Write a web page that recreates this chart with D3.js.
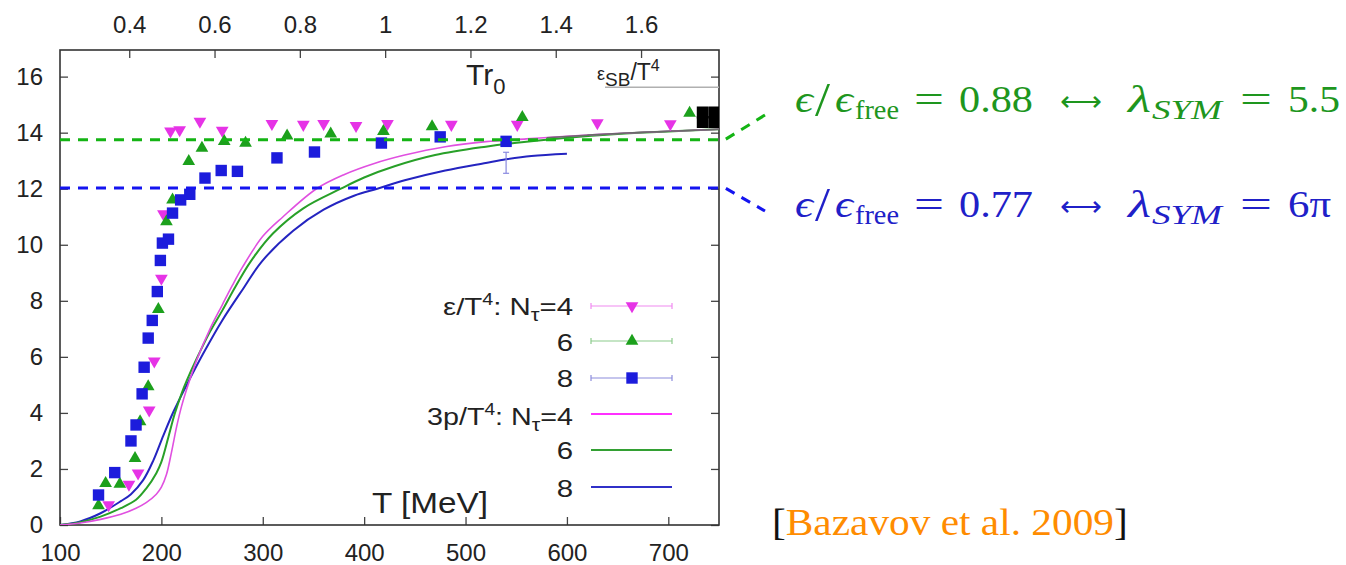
<!DOCTYPE html>
<html><head><meta charset="utf-8">
<script src="https://cdn.jsdelivr.net/npm/d3@7"></script>
<style>body{margin:0;background:#fff}</style>
</head><body>
<svg id="c" width="1346" height="565" xmlns="http://www.w3.org/2000/svg"></svg>
<script>
// ---- data ----
const yTicks = [0,2,4,6,8,10,12,14,16];
const xTicks = [100,200,300,400,500,600,700];
const topTicks = [0.4,0.6,0.8,1,1.2,1.4,1.6];
const r0MeV = 420.7; // T r0 = T / r0MeV

// epsilon/T^4 data points
const eN4_T = [148,168,177,188,193,200,202,209,218,238,260,309,340,360,392,423,486,551,630,702];
const eN4_v = [0.72,1.45,1.85,4.1,5.85,8.8,11.1,14.05,14.1,14.4,14.08,14.32,14.29,14.32,14.25,14.32,14.29,14.29,14.35,14.31];
const eN6_T = [138,145,159,174,179,187,197,205,211,227,240,262,283,324,367,419,467,556,721];
const eN6_v = [0.69,1.49,1.46,2.38,3.69,4.94,7.7,10.83,11.6,12.98,13.45,13.69,13.63,13.89,13.96,14.05,14.22,14.55,14.7];
const eN8_T = [138,154,170,175,181,183,187,191,196,199,201,207,211,219,228,243,259,275,314,351,417,475,540];
const eN8_v = [1.07,1.87,3.0,3.57,4.68,5.63,6.67,7.3,8.33,9.44,10.06,10.2,11.13,11.6,11.8,12.38,12.65,12.62,13.1,13.31,13.63,13.85,13.69];
const contT = [734,746,734,746];
const contV = [14.72,14.72,14.38,14.38];
const errBarT = [540];
const errBarLo = [12.55];
const errBarHi = [13.3];

// 3p/T^4 curves
const pN4_T = [100,120,140,160,175,185,195,200,205,210,215,220,225,235,248,260,270,280,300,320,353,380,410,440,480,520,560,600,650,700,750];
const pN4_v = [0,0.07,0.2,0.38,0.6,0.8,1.1,1.35,1.8,2.6,3.5,4.25,4.85,5.9,7.0,7.85,8.55,9.2,10.3,11.0,12.0,12.5,12.9,13.2,13.5,13.68,13.78,13.87,13.97,14.05,14.12];
const pN6_T = [100,120,140,160,175,185,195,200,207,213,220,225,235,248,260,273,288,310,340,377,400,430,470,520,560,600,650,700,750];
const pN6_v = [0,0.1,0.3,0.6,0.9,1.3,1.85,2.25,3.15,3.95,4.7,5.15,5.95,6.9,7.65,8.5,9.4,10.4,11.3,12.0,12.4,12.8,13.2,13.5,13.68,13.82,13.95,14.04,14.12];
const pN8_T = [100,120,140,160,170,182,192,202,212,225,241,260,281,299,330,360,390,413,440,480,520,540,565,600];
const pN8_v = [0,0.13,0.42,0.85,1.1,1.6,2.3,3.2,4.05,5.0,6.1,7.3,8.45,9.4,10.5,11.25,11.75,12.0,12.3,12.65,12.92,13.05,13.17,13.25];
const greyT = [580,620,660,700,750];
const greyV = [13.82,13.91,13.99,14.05,14.12];

const sbLevel = 15.62;
const greenLevel = 13.75;
const blueLevel = 12.03;

// ---- drawing ----
const svg = d3.select('#c');
svg.append('rect').attr('width',1346).attr('height',565).attr('fill','#fff');
const L=60,R=719,T0=50,B=525;
const x = d3.scaleLinear().domain([100,750]).range([L,R]);
const y = d3.scaleLinear().domain([0,16.95]).range([B,T0]);
const xt = d3.scaleLinear().domain([100/r0MeV,750/r0MeV]).range([L,R]);
const SANS = "'Liberation Sans', Arial, Helvetica, sans-serif";
const SERIF = "'Liberation Serif', 'Times New Roman', 'DejaVu Serif', serif";

const C = {mag:'#e633e6', grn:'#1ca01c', blu:'#1c1cdc', magL:'#e050e0', grnL:'#28a028', bluL:'#2424c0'};

svg.append('clipPath').attr('id','clip').append('rect').attr('x',L).attr('y',T0).attr('width',R-L).attr('height',B-T0);

function styleAxis(g){
  g.select('.domain').remove();
  g.selectAll('.tick line').attr('stroke','#444').attr('stroke-width',1.3);
  g.selectAll('.tick text').attr('font-family',SANS).attr('font-size',24).attr('fill','#222');
}
svg.append('g').attr('transform',`translate(${L},0)`)
  .call(d3.axisLeft(y).tickValues(yTicks).tickSize(-8).tickPadding(17).tickFormat(d3.format('d'))).call(styleAxis);
svg.append('g').attr('transform',`translate(${R},0)`)
  .call(d3.axisRight(y).tickValues(yTicks).tickSize(-8).tickFormat('')).call(styleAxis);
svg.append('g').attr('transform',`translate(0,${B})`)
  .call(d3.axisBottom(x).tickValues(xTicks).tickSize(-8).tickPadding(19).tickFormat(d3.format('d'))).call(styleAxis);
svg.append('g').attr('transform',`translate(0,${T0})`)
  .call(d3.axisTop(xt).tickValues(topTicks).tickSize(-8).tickPadding(17).tickFormat(d=>d===1?'1':d3.format('.1f')(d))).call(styleAxis);

// frame
svg.append('rect').attr('x',L).attr('y',T0).attr('width',R-L).attr('height',B-T0)
  .attr('fill','none').attr('stroke','#333').attr('stroke-width',1.6);

const plot = svg.append('g').attr('clip-path','url(#clip)');

// SB line
svg.append('line').attr('x1',605).attr('x2',R).attr('y1',y(sbLevel)).attr('y2',y(sbLevel))
  .attr('stroke','#b0b0b0').attr('stroke-width',1.5);

// curves
const line = d3.line().x(d=>x(d[0])).y(d=>y(d[1])).curve(d3.curveCatmullRom.alpha(0.5));
function curve(Ts,Vs,col,w){
  plot.append('path').attr('d',line(Ts.map((t,i)=>[t,Vs[i]]))).attr('fill','none').attr('stroke',col).attr('stroke-width',w);
}
curve(pN8_T,pN8_v,C.bluL,2);
curve(pN6_T,pN6_v,C.grnL,2);
curve(pN4_T,pN4_v,C.magL,1.6);
curve(greyT,greyV,'#6a6a6a',1.6);

// error bar
errBarT.forEach((t,i)=>{
  const g=plot.append('g').attr('stroke','#8a8ae0').attr('stroke-width',1.2);
  g.append('line').attr('x1',x(t)).attr('x2',x(t)).attr('y1',y(errBarLo[i])).attr('y2',y(errBarHi[i]));
  g.append('line').attr('x1',x(t)-3).attr('x2',x(t)+3).attr('y1',y(errBarLo[i])).attr('y2',y(errBarLo[i]));
  g.append('line').attr('x1',x(t)-3).attr('x2',x(t)+3).attr('y1',y(errBarHi[i])).attr('y2',y(errBarHi[i]));
});

// markers
const tri = d3.symbol().type(d3.symbolTriangle).size(70)();
const sq = d3.symbol().type(d3.symbolSquare).size(130)();
function pts(Ts,Vs,path,col,rot){
  plot.append('g').selectAll('path').data(Ts.map((t,i)=>[t,Vs[i]])).join('path')
    .attr('d',path).attr('fill',col)
    .attr('transform',d=>`translate(${x(d[0])},${y(d[1])}) rotate(${rot})`);
}
pts(eN4_T,eN4_v,tri,C.mag,180);
pts(eN6_T,eN6_v,tri,C.grn,0);
pts(eN8_T,eN8_v,sq,C.blu,0);
pts(contT,contV,d3.symbol().type(d3.symbolSquare).size(144)(),'#000',0);

// dashed reference lines
function dashed(level,endY,col){
  svg.append('path').attr('d',`M${L},${y(level)}L${725},${y(level)}L${765},${endY}`)
    .attr('fill','none').attr('stroke',col).attr('stroke-width',3).attr('stroke-dasharray','10,8');
}
dashed(greenLevel,115,'#14b414');
dashed(blueLevel,211,'#1414f0');

// labels in plot
const tr = svg.append('text').attr('x',466).attr('y',85).attr('font-family',SANS).attr('font-size',30).attr('fill','#222');
tr.append('tspan').text('Tr');
tr.append('tspan').attr('dy',9).attr('font-size',22).text('0');

const sb = svg.append('text').attr('x',597).attr('y',80).attr('font-family',SANS).attr('font-size',23).attr('fill','#222');
sb.append('tspan').attr('font-size',18).text('ε');
sb.append('tspan').attr('dy',6).attr('font-size',19).text('SB');
sb.append('tspan').attr('dy',-6).text('/T');
sb.append('tspan').attr('dy',-9).attr('font-size',16).text('4');

function fitText(sel, ax, ay, w, sy){
  const cw = sel.node().getComputedTextLength();
  sel.attr('x',0).attr('y',0).attr('transform',`translate(${ax},${ay}) scale(${w/cw},${sy||1})`);
}
const tm = svg.append('text').attr('font-family',SANS).attr('font-size',29).attr('fill','#222').text('T [MeV]');
fitText(tm,372,513,116);

// legend
const lx = 573, l1=591, l2=672, lm=632;
const rowsE = [
  {c:C.mag, y:306, path:tri, rot:180, lc:'#f08af0'},
  {c:C.grn, y:341, path:tri, rot:0, lc:'#8ccc8c'},
  {c:C.blu, y:378, path:sq, rot:0, lc:'#8c8cdc'}
];
rowsE.forEach(r=>{
  const g=svg.append('g').attr('stroke',r.lc).attr('stroke-width',1.2);
  g.append('line').attr('x1',l1).attr('x2',l2).attr('y1',r.y).attr('y2',r.y);
  g.append('line').attr('x1',l1).attr('x2',l1).attr('y1',r.y-3).attr('y2',r.y+3);
  g.append('line').attr('x1',l2).attr('x2',l2).attr('y1',r.y-3).attr('y2',r.y+3);
  svg.append('path').attr('d',r.path).attr('fill',r.c).attr('transform',`translate(${lm},${r.y}) rotate(${r.rot})`);
});
const rowsP = [{c:'#ff30ff',y:414},{c:'#33a033',y:450},{c:'#3030c8',y:487}];
rowsP.forEach(r=>{
  svg.append('line').attr('x1',l1).attr('x2',l2).attr('y1',r.y).attr('y2',r.y).attr('stroke',r.c).attr('stroke-width',2);
});
function legText(base, parts, w, sx){
  const t=svg.append('text').attr('text-anchor','end')
    .attr('font-family',SANS).attr('font-size',24).attr('fill','#222');
  parts.forEach(p=>{const s=t.append('tspan').text(p[0]); if(p[1])s.attr('dy',p[1]); if(p[2])s.attr('font-size',p[2]);});
  const cw=t.node().getComputedTextLength();
  const k = w ? w/cw : sx;
  t.attr('x',0).attr('y',0).attr('transform',`translate(${lx},${base}) scale(${k},1)`);
  return k;
}
const k1 = legText(315,[['ε/T'],['4',-10,16],[': N',10],['τ',6,18],['=4',-6]],130);
legText(351,[['6']],0,k1);
legText(387,[['8']],0,k1);
legText(425,[['3p/T'],['4',-10,16],[': N',10],['τ',6,18],['=4',-6]],146);
legText(459,[['6']],0,k1);
legText(497,[['8']],0,k1);

// right annotations (pieces placed like the typeset formula)
const mathPieces = [
  {t:'ϵ', x0:795, x1:813, it:true, fs:38},
  {t:'/', x0:815, x1:830, fs:48, dy:4},
  {t:'ϵ', x0:835, x1:853, it:true, fs:38},
  {t:'free', x0:855, x1:899, fs:28, dy:7},
  {t:'=', x0:914, x1:944, fs:38},
  {t:'VAL1', x0:959, x1:1033, fs:38},
  {t:'\u27F7', x0:1060, x1:1102, fs:30, dy:-1, arrow:true},
  {t:'λ', x0:1128, x1:1151, it:true, fs:38},
  {t:'SYM', x0:1152, x1:1222, it:true, fs:28, dy:7},
  {t:'=', x0:1240, x1:1272, fs:38},
  {t:'VAL2', x0:1288, x1:0, fs:38}
];
function mathText(yb,col,v1,v2,endX){
  mathPieces.forEach(p=>{
    const txt = p.t==='VAL1'?v1:(p.t==='VAL2'?v2:p.t);
    const x1 = p.t==='VAL2'?endX:p.x1;
    const t=svg.append('text')
      .attr('font-family', p.arrow ? "'DejaVu Sans ExtraLight','DejaVu Sans', sans-serif" : SERIF)
      .attr('font-weight', p.arrow ? 200 : null)
      .attr('font-size',p.fs).attr('fill',col)
      .attr('font-style',p.it?'italic':'normal').text(txt);
    fitText(t, p.x0, yb+(p.dy||0), x1-p.x0);
  });
}
mathText(112,'#1e961e','0.88','5.5',1340);
mathText(217,'#2020c8','0.77','6π',1331);

const ref=svg.append('text').attr('font-family',SERIF).attr('font-size',37);
ref.append('tspan').attr('fill','#111').text('[');
ref.append('tspan').attr('fill','#ff8c00').text('Bazavov et al. 2009');
ref.append('tspan').attr('fill','#111').text(']');
fitText(ref,772,535,356);
</script>
</body></html>
